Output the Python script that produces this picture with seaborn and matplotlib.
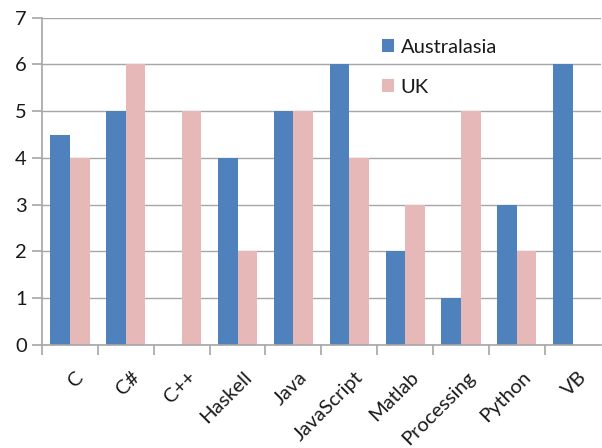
import matplotlib
matplotlib.use("Agg")
import matplotlib.pyplot as plt
import matplotlib.transforms as mtransforms
import seaborn as sns
import pandas as pd
from matplotlib.patches import Patch

languages = ["C", "C#", "C++", "Haskell", "Java", "JavaScript", "Matlab",
             "Processing", "Python", "VB"]
australasia = [4.5, 5, 0, 4, 5, 6, 2, 1, 3, 6]
uk = [4, 6, 5, 2, 5, 4, 3, 5, 2, 0]
regions = ["Australasia", "UK"]
colors = ["#4F81BD", "#E6B9B8"]

df = pd.DataFrame({
    "language": languages * 2,
    "count": australasia + uk,
    "region": [regions[0]] * len(languages) + [regions[1]] * len(languages),
})

sns.set_theme(style="white")
plt.rcParams["font.family"] = ["Lato", "DejaVu Sans"]

fig = plt.figure(figsize=(6.02, 4.48), dpi=100)
ax = fig.add_axes([0.0698, 0.230, 0.928, 0.7305])

sns.barplot(data=df, x="language", y="count", hue="region", order=languages,
            hue_order=regions, palette=colors, width=0.7, saturation=1,
            linewidth=0, ax=ax, legend=False)

ax.set_ylim(0, 7)
ax.set_yticks(range(0, 8))
ax.set_xlim(-0.5, len(languages) - 0.5)
ax.set_xlabel("")
ax.set_ylabel("")

grid_color = "#A6A6A6"
text_color = "#1a1a1a"
fs = 14.5
ax.yaxis.grid(True, color=grid_color, linewidth=1)
ax.set_axisbelow(True)
for side in ["top", "right"]:
    ax.spines[side].set_visible(False)
for side in ["left", "bottom"]:
    ax.spines[side].set_color(grid_color)
    ax.spines[side].set_linewidth(1.2)

# category boundary ticks on the x axis
ax.set_xticks([i - 0.5 for i in range(len(languages))], minor=True)
ax.tick_params(axis="x", which="minor", bottom=True, length=7, width=1.2,
               color=grid_color)
ax.tick_params(axis="x", which="major", bottom=False, labelsize=fs,
               labelcolor=text_color, pad=11)
ax.tick_params(axis="y", left=True, length=7, width=1.2, color=grid_color,
               labelsize=fs, labelcolor=text_color, pad=4)
shift = mtransforms.ScaledTranslation(5 / 100, 0, fig.dpi_scale_trans)
for lbl in ax.get_xticklabels():
    lbl.set_rotation(45)
    lbl.set_ha("right")
    lbl.set_rotation_mode("anchor")
    lbl.set_transform(lbl.get_transform() + shift)

handles = [Patch(facecolor=c, edgecolor="none") for c in colors]
leg = ax.legend(handles, regions, loc="upper left",
                bbox_to_anchor=(0.59, 0.967), frameon=False, fontsize=fs,
                handlelength=0.6, handleheight=0.6, handletextpad=0.35,
                labelspacing=1.15, borderpad=0)
for t in leg.get_texts():
    t.set_color(text_color)

fig.savefig("out.png", dpi=100)
